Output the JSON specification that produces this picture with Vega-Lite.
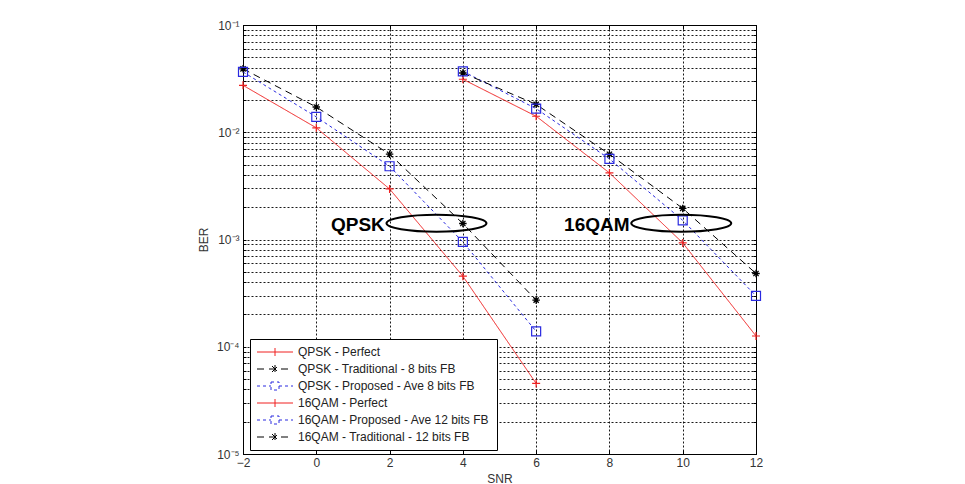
{
  "$schema": "https://vega.github.io/schema/vega-lite/v6.json",
  "width": 513,
  "height": 429,
  "autosize": {"type": "none"},
  "padding": {"left": 243, "top": 25, "right": 209, "bottom": 30},
  "background": "white",
  "config": {"view": {"stroke": "black", "strokeWidth": 1}, "font": "Liberation Sans"},
  "resolve": {"axis": {"x": "independent", "y": "independent"}},
  "datasets": {
    "curves": [
      {"series": "QPSK - Perfect", "snr": -2, "ber": 0.0274},
      {"series": "QPSK - Perfect", "snr": 0, "ber": 0.011},
      {"series": "QPSK - Perfect", "snr": 2, "ber": 0.00296},
      {"series": "QPSK - Perfect", "snr": 4, "ber": 0.000455},
      {"series": "QPSK - Perfect", "snr": 6, "ber": 0.0000455},
      {"series": "QPSK - Traditional - 8 bits FB", "snr": -2, "ber": 0.039},
      {"series": "QPSK - Traditional - 8 bits FB", "snr": 0, "ber": 0.0172},
      {"series": "QPSK - Traditional - 8 bits FB", "snr": 2, "ber": 0.00624},
      {"series": "QPSK - Traditional - 8 bits FB", "snr": 4, "ber": 0.00141},
      {"series": "QPSK - Traditional - 8 bits FB", "snr": 6, "ber": 0.000272},
      {"series": "QPSK - Proposed - Ave 8 bits FB", "snr": -2, "ber": 0.0365},
      {"series": "QPSK - Proposed - Ave 8 bits FB", "snr": 0, "ber": 0.0139},
      {"series": "QPSK - Proposed - Ave 8 bits FB", "snr": 2, "ber": 0.00482},
      {"series": "QPSK - Proposed - Ave 8 bits FB", "snr": 4, "ber": 0.00095},
      {"series": "QPSK - Proposed - Ave 8 bits FB", "snr": 6, "ber": 0.000139},
      {"series": "16QAM - Perfect", "snr": 4, "ber": 0.0312},
      {"series": "16QAM - Perfect", "snr": 6, "ber": 0.0141},
      {"series": "16QAM - Perfect", "snr": 8, "ber": 0.00418},
      {"series": "16QAM - Perfect", "snr": 10, "ber": 0.00093},
      {"series": "16QAM - Perfect", "snr": 12, "ber": 0.000126},
      {"series": "16QAM - Proposed - Ave 12 bits FB", "snr": 4, "ber": 0.037},
      {"series": "16QAM - Proposed - Ave 12 bits FB", "snr": 6, "ber": 0.0166},
      {"series": "16QAM - Proposed - Ave 12 bits FB", "snr": 8, "ber": 0.00564},
      {"series": "16QAM - Proposed - Ave 12 bits FB", "snr": 10, "ber": 0.00151},
      {"series": "16QAM - Proposed - Ave 12 bits FB", "snr": 12, "ber": 0.000298},
      {"series": "16QAM - Traditional - 12 bits FB", "snr": 4, "ber": 0.0357},
      {"series": "16QAM - Traditional - 12 bits FB", "snr": 6, "ber": 0.0182},
      {"series": "16QAM - Traditional - 12 bits FB", "snr": 8, "ber": 0.00624},
      {"series": "16QAM - Traditional - 12 bits FB", "snr": 10, "ber": 0.00195},
      {"series": "16QAM - Traditional - 12 bits FB", "snr": 12, "ber": 0.000482}
    ],
    "labels": [
      {"label": "QPSK", "snr": 1.87, "ber": 0.00136},
      {"label": "16QAM", "snr": 8.55, "ber": 0.00136}
    ],
    "rings": [
      {"group": "QPSK", "snr": 3.28, "ber": 0.00142},
      {"group": "16QAM", "snr": 9.96, "ber": 0.00142}
    ]
  },
  "layer": [
    {
      "data": {"name": "curves"},
      "mark": {"type": "line", "strokeWidth": 1},
      "encoding": {
        "x": {
          "field": "snr", "type": "quantitative",
          "scale": {"domain": [-2, 12], "nice": false, "zero": false},
          "axis": {
            "title": "SNR", "values": [-2, 0, 2, 4, 6, 8, 10, 12],
            "grid": true, "gridDash": [2, 2], "gridColor": "#000", "gridOpacity": 0.9,
            "domainColor": "#000", "tickColor": "#000", "tickSize": -4,
            "labelPadding": 7, "labelFontSize": 12, "labelColor": "#333", "labelFlush": false, "labelOverlap": false,
            "titleFontSize": 12, "titleFontWeight": "normal", "titleColor": "#333", "titlePadding": 5,
            "labelFont": "Liberation Sans", "titleFont": "Liberation Sans"
          }
        },
        "y": {
          "field": "ber", "type": "quantitative",
          "scale": {"type": "log", "domain": [0.00001, 0.1], "nice": false},
          "axis": {
            "title": "BER",
            "values": [0.00001, 0.00002, 0.00003, 0.00004, 0.00005, 0.00006, 0.00007, 0.00008, 0.00009,
                       0.0001, 0.0002, 0.0003, 0.0004, 0.0005, 0.0006, 0.0007, 0.0008, 0.0009,
                       0.001, 0.002, 0.003, 0.004, 0.005, 0.006, 0.007, 0.008, 0.009,
                       0.01, 0.02, 0.03, 0.04, 0.05, 0.06, 0.07, 0.08, 0.09, 0.1],
            "labelExpr": "abs(log(datum.value)/LN10 - round(log(datum.value)/LN10)) < 0.000001 ? '10' + ['⁰','⁻¹','⁻²','⁻³','⁻⁴','⁻⁵'][-round(log(datum.value)/LN10)] : ''",
            "grid": true, "gridDash": [2, 2], "gridColor": "#000", "gridOpacity": 0.9,
            "domainColor": "#000", "tickColor": "#000", "tickSize": -3,
            "labelPadding": 7, "labelFontSize": 12, "labelColor": "#333", "labelOverlap": false, "labelFlush": false,
            "titleFontSize": 12, "titleFontWeight": "normal", "titleColor": "#333", "titlePadding": 6,
            "labelFont": "Liberation Sans", "titleFont": "Liberation Sans"
          }
        },
        "color": {
          "field": "series", "type": "nominal",
          "scale": {
            "domain": ["QPSK - Perfect", "QPSK - Traditional - 8 bits FB", "QPSK - Proposed - Ave 8 bits FB", "16QAM - Perfect", "16QAM - Proposed - Ave 12 bits FB", "16QAM - Traditional - 12 bits FB"],
            "range": ["#f02020", "#000000", "#2a2ae0", "#f02020", "#2a2ae0", "#000000"]
          },
          "legend": {
            "title": null, "orient": "none", "legendX": 7, "legendY": 314,
            "symbolSize": 100, "symbolStrokeWidth": 1, "symbolOffset": 12, "labelOffset": 17, "padding": 7,
            "rowPadding": 5, "labelFontSize": 12, "labelColor": "#222", "labelFont": "Liberation Sans", "labelLimit": 400,
            "strokeColor": "#000", "fillColor": "white",
            "encode": {
              "symbols": {
                "update": {
                  "shape": {"signal": "indexof(datum.value, 'Perfect') >= 0 ? 'M-3.6,0L3.6,0M0,-0.8L0,0.8' : (indexof(datum.value, 'Traditional') >= 0 ? 'M-3.6,0L3.6,0M0,-0.8L0,0.8M-0.6,-0.6L0.6,0.6M-0.6,0.6L0.6,-0.6' : 'M-3.6,0L-0.8,0M0.8,0L3.6,0M-0.8,-0.8L0.8,-0.8L0.8,0.8L-0.8,0.8Z')"},
                  "fill": {"value": "transparent"}
                }
              }
            }
          }
        },
        "strokeDash": {
          "field": "series", "type": "nominal",
          "scale": {
            "domain": ["QPSK - Perfect", "QPSK - Traditional - 8 bits FB", "QPSK - Proposed - Ave 8 bits FB", "16QAM - Perfect", "16QAM - Proposed - Ave 12 bits FB", "16QAM - Traditional - 12 bits FB"],
            "range": [[1, 0], [7, 5], [3, 3], [1, 0], [3, 3], [7, 5]]
          },
          "legend": {
            "title": null, "orient": "none", "legendX": 7, "legendY": 314,
            "symbolSize": 100, "symbolStrokeWidth": 1, "symbolOffset": 12, "labelOffset": 17, "padding": 7,
            "rowPadding": 5, "labelFontSize": 12, "labelColor": "#222", "labelFont": "Liberation Sans", "labelLimit": 400,
            "strokeColor": "#000", "fillColor": "white"
          }
        }
      }
    },
    {
      "data": {"name": "curves"},
      "mark": {"type": "point", "opacity": 0},
      "encoding": {
        "x": {"field": "snr", "type": "quantitative",
              "axis": {"orient": "top", "values": [-2, 0, 2, 4, 6, 8, 10, 12], "labels": false, "title": null, "grid": false, "domain": false, "tickColor": "#000", "tickSize": -4}},
        "y": {"field": "ber", "type": "quantitative",
              "axis": {"orient": "right", "values": [0.00001, 0.00002, 0.00003, 0.00004, 0.00005, 0.00006, 0.00007, 0.00008, 0.00009,
                       0.0001, 0.0002, 0.0003, 0.0004, 0.0005, 0.0006, 0.0007, 0.0008, 0.0009,
                       0.001, 0.002, 0.003, 0.004, 0.005, 0.006, 0.007, 0.008, 0.009,
                       0.01, 0.02, 0.03, 0.04, 0.05, 0.06, 0.07, 0.08, 0.09, 0.1], "labels": false, "title": null, "grid": false, "domain": false, "tickColor": "#000", "tickSize": -3}}
      }
    },
    {
      "data": {"name": "curves"},
      "transform": [{"filter": "indexof(datum.series, 'Perfect') >= 0"}],
      "mark": {"type": "point", "filled": false, "stroke": "#f02020", "strokeWidth": 1.2, "size": 64, "opacity": 1,
               "shape": "M-1,0L1,0M0,-1L0,1"},
      "encoding": {
        "x": {"field": "snr", "type": "quantitative", "axis": null},
        "y": {"field": "ber", "type": "quantitative", "axis": null}
      }
    },
    {
      "data": {"name": "curves"},
      "transform": [{"filter": "indexof(datum.series, 'Traditional') >= 0"}],
      "mark": {"type": "point", "filled": false, "stroke": "#000000", "strokeWidth": 1.3, "size": 56, "opacity": 1,
               "shape": "M-1,0L1,0M0,-1L0,1M-0.7,-0.7L0.7,0.7M-0.7,0.7L0.7,-0.7"},
      "encoding": {
        "x": {"field": "snr", "type": "quantitative", "axis": null},
        "y": {"field": "ber", "type": "quantitative", "axis": null}
      }
    },
    {
      "data": {"name": "curves"},
      "transform": [{"filter": "indexof(datum.series, 'Proposed') >= 0"}],
      "mark": {"type": "point", "filled": false, "stroke": "#2a2ae0", "strokeWidth": 1.2, "size": 81, "opacity": 1,
               "shape": "square"},
      "encoding": {
        "x": {"field": "snr", "type": "quantitative", "axis": null},
        "y": {"field": "ber", "type": "quantitative", "axis": null}
      }
    },
    {
      "data": {"name": "rings"},
      "mark": {"type": "point", "filled": false, "stroke": "#000", "strokeWidth": 2, "size": 10000, "opacity": 1,
               "shape": "M-1,0A1,0.17,0,1,1,1,0A1,0.17,0,1,1,-1,0Z"},
      "encoding": {
        "x": {"field": "snr", "type": "quantitative", "axis": null},
        "y": {"field": "ber", "type": "quantitative", "axis": null}
      }
    },
    {
      "data": {"name": "labels"},
      "mark": {"type": "text", "fontSize": 19, "fontWeight": "bold", "align": "right", "baseline": "middle", "color": "#000", "font": "Liberation Sans"},
      "encoding": {
        "x": {"field": "snr", "type": "quantitative", "axis": null},
        "y": {"field": "ber", "type": "quantitative", "axis": null},
        "text": {"field": "label"}
      }
    }
  ]
}
